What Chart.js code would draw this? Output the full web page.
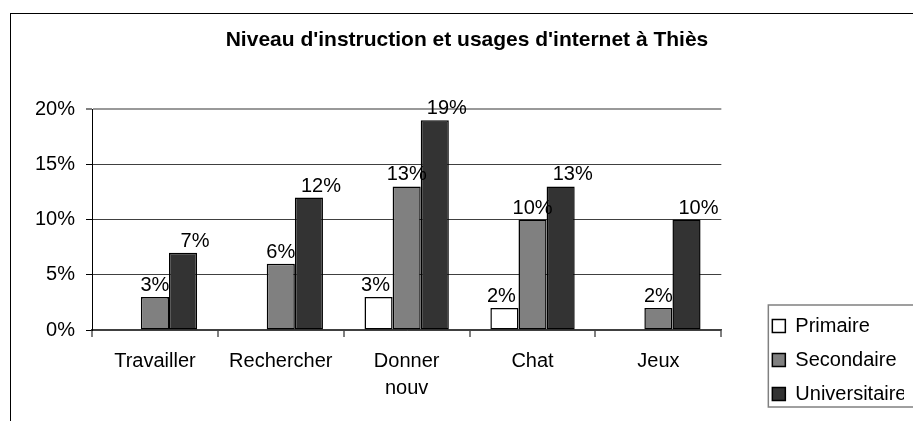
<!DOCTYPE html>
<html>
<head>
<meta charset="utf-8">
<script src="https://cdn.jsdelivr.net/npm/chart.js@4.4.1/dist/chart.umd.min.js"></script>
<style>
  html, body { margin: 0; padding: 0; background: #fff; overflow: hidden; }
  #wrap { position: relative; width: 913px; height: 421px; }
  #frame { position: absolute; left: 10px; top: 13px; width: 950px; height: 500px; border: 1px solid #000; }
  canvas { position: absolute; left: 0; top: 0; }
</style>
</head>
<body>
<div id="wrap">
  <div id="frame"></div>
  <canvas id="chart" width="913" height="421"></canvas>
</div>
<script>
const titleText = "Niveau d'instruction et usages d'internet à Thiès";
const categories = ["Travailler", "Rechercher", ["Donner", "nouv"], "Chat", "Jeux"];
const seriesNames = ["Primaire", "Secondaire", "Universitaire"];
const primaire = [null, null, 3, 2, null];
const secondaire = [3, 6, 13, 10, 2];
const universitaire = [7, 12, 19, 13, 10];
const yMax = 20;
const yStep = 5;

Chart.defaults.font.family = "'Liberation Sans', Arial, sans-serif";
Chart.defaults.color = "#000";

// value labels above each bar (Excel puts the last series a bit to the right)
const barLabels = {
  id: "barLabels",
  afterDatasetsDraw(chart) {
    const ctx = chart.ctx;
    const shift = [-3, 0, 12];
    ctx.save();
    ctx.font = "20px 'Liberation Sans', Arial, sans-serif";
    ctx.fillStyle = "#000";
    ctx.textAlign = "center";
    ctx.textBaseline = "alphabetic";
    chart.data.datasets.forEach((ds, i) => {
      chart.getDatasetMeta(i).data.forEach((bar, j) => {
        const v = ds.data[j];
        if (v === null) return;
        ctx.fillText(v + "%", bar.x + shift[i], bar.y - 6);
      });
    });
    ctx.restore();
  }
};

// grey frame round the legend
const legendFrame = {
  id: "legendFrame",
  afterDraw(chart) {
    const boxes = chart.legend.legendHitBoxes;
    if (!boxes || !boxes.length) return;
    const first = boxes[0];
    const last = boxes[boxes.length - 1];
    const ctx = chart.ctx;
    ctx.save();
    ctx.strokeStyle = "#808080";
    ctx.lineWidth = 1.5;
    ctx.strokeRect(first.left - 4, first.top - 11, 220, last.top + last.height - first.top + 14);
    ctx.restore();
  }
};

const chart = new Chart(document.getElementById("chart"), {
  type: "bar",
  data: {
    labels: categories,
    datasets: [
      { label: seriesNames[0], data: primaire, backgroundColor: "#ffffff" },
      { label: seriesNames[1], data: secondaire, backgroundColor: "#808080" },
      { label: seriesNames[2], data: universitaire, backgroundColor: "#333333" },
    ].map((ds) => ({
      ...ds,
      borderColor: "#000",
      borderWidth: 1.5,
      borderSkipped: false,
      categoryPercentage: 0.67,
      barPercentage: 1,
    })),
  },
  options: {
    responsive: false,
    animation: false,
    layout: { padding: { left: 30, right: 9, top: 0, bottom: 3 } },
    plugins: {
      title: {
        display: true,
        text: titleText,
        color: "#000",
        font: { size: 21, weight: "bold" },
        padding: { top: 28, bottom: 56 },
      },
      legend: {
        position: "right",
        align: "end",
        labels: {
          color: "#000",
          font: { size: 20 },
          boxWidth: 13,
          boxHeight: 13,
          padding: 14,
        },
      },
      tooltip: { enabled: false },
    },
    scales: {
      x: {
        grid: {
          offset: true,
          drawOnChartArea: true,
          color: (c) => (c.index === categories.length ? "#999999" : "rgba(0,0,0,0)"),
          lineWidth: 2,
          tickColor: "#000",
          tickWidth: 1,
          tickLength: 7,
        },
        border: { color: "#404040", width: 1.5 },
        ticks: {
          color: "#000",
          font: { size: 20, lineHeight: 1.35 },
          padding: 11,
          maxRotation: 0,
          autoSkip: false,
        },
        afterFit(s) {
          s.height = 88;
        },
      },
      y: {
        min: 0,
        max: yMax,
        grid: {
          color: (c) => (c.tick && c.tick.value === yMax ? "#999999" : "#404040"),
          lineWidth: (c) => (c.tick && c.tick.value === yMax ? 2 : 1),
          tickColor: "#000",
          tickWidth: 1,
          tickLength: 6,
        },
        border: { color: "#000", width: 1 },
        ticks: {
          stepSize: yStep,
          color: "#000",
          font: { size: 20 },
          padding: 11,
          callback: (v) => v + "%",
        },
        afterFit(s) {
          s.width = 62;
        },
      },
      gap: {
        type: "linear",
        position: "right",
        display: true,
        grid: { display: false, drawTicks: false },
        border: { display: false },
        ticks: { display: false },
        afterFit(s) {
          s.width = 37;
        },
      },
    },
  },
  plugins: [barLabels, legendFrame],
});
</script>
</body>
</html>
